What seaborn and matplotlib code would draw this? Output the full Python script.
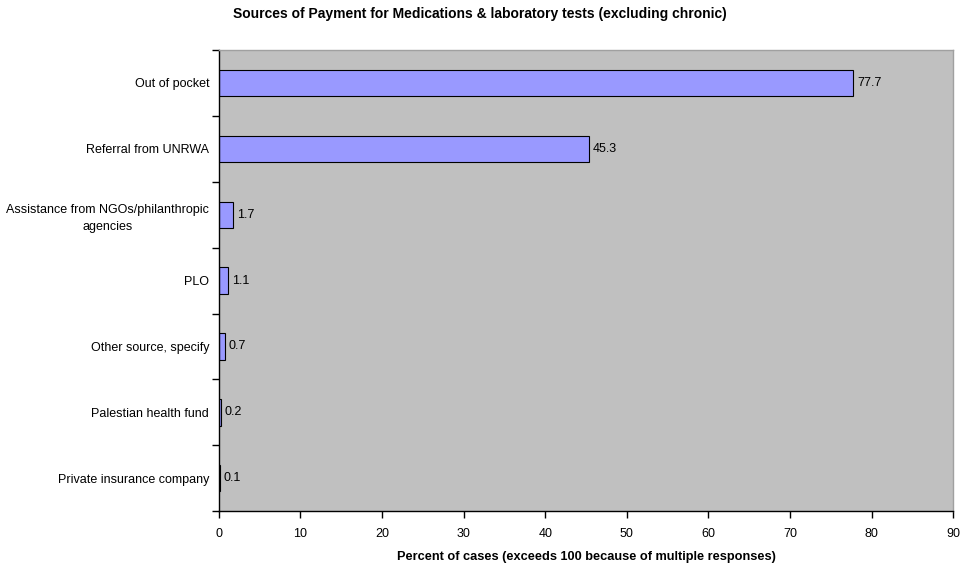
import matplotlib
matplotlib.use("Agg")
import matplotlib.pyplot as plt
import numpy as np
import pandas as pd
import seaborn as sns

categories = [
    "Out of pocket",
    "Referral from UNRWA",
    "Assistance from NGOs/philanthropic\nagencies",
    "PLO",
    "Other source, specify",
    "Palestian health fund",
    "Private insurance company",
]
percent = [77.7, 45.3, 1.7, 1.1, 0.7, 0.2, 0.1]
x_ticks = [0, 10, 20, 30, 40, 50, 60, 70, 80, 90]

sns.set_style("white")
plt.rcParams["font.family"] = ["Liberation Sans", "DejaVu Sans"]
plt.rcParams["text.color"] = "black"
plt.rcParams["axes.labelcolor"] = "black"
plt.rcParams["xtick.color"] = "black"
plt.rcParams["ytick.color"] = "black"

df = pd.DataFrame({"source": categories, "percent": percent})

fig = plt.figure(figsize=(9.6, 5.68), dpi=100)
ax = fig.add_axes([0.228, 0.100, 0.765, 0.812])
ax.set_facecolor("#C0C0C0")

sns.barplot(data=df, x="percent", y="source", orient="h", color="#9999FF",
            edgecolor="black", linewidth=0.8, width=0.4, saturation=1, ax=ax)

for i, v in enumerate(percent):
    ax.text(v + 0.5, i, f"{v:.1f}", va="center", ha="left", fontsize=9)

ax.set_xlim(0, 90)
ax.set_ylim(len(categories) - 0.5, -0.5)
ax.set_xticks(x_ticks)
ax.set_xticklabels([str(t) for t in x_ticks], fontsize=9)
ax.set_yticks(range(len(categories)))
ax.set_yticklabels(categories, fontsize=9, ha="right", multialignment="center",
                   linespacing=1.5)
ax.set_yticks(np.arange(-0.5, len(categories), 1), minor=True)
ax.tick_params(axis="y", which="major", left=False, length=0, pad=7)
ax.tick_params(axis="y", which="minor", left=True, length=5, width=1,
               direction="out", color="black")
ax.tick_params(axis="x", which="major", bottom=True, length=5, width=1,
               direction="out", color="black", pad=7)

ax.set_xlabel("Percent of cases (exceeds 100 because of multiple responses)",
              fontsize=9.2, fontweight="bold", labelpad=8)
ax.set_ylabel("")
fig.suptitle("Sources of Payment for Medications & laboratory tests (excluding chronic)",
             fontsize=10, fontweight="bold", y=0.988, x=0.5)

for side in ["left", "bottom"]:
    ax.spines[side].set_color("black")
    ax.spines[side].set_linewidth(1)
for side in ["top", "right"]:
    ax.spines[side].set_color("#A0A0A0")
    ax.spines[side].set_linewidth(1)

fig.savefig("out.png", dpi=100)
